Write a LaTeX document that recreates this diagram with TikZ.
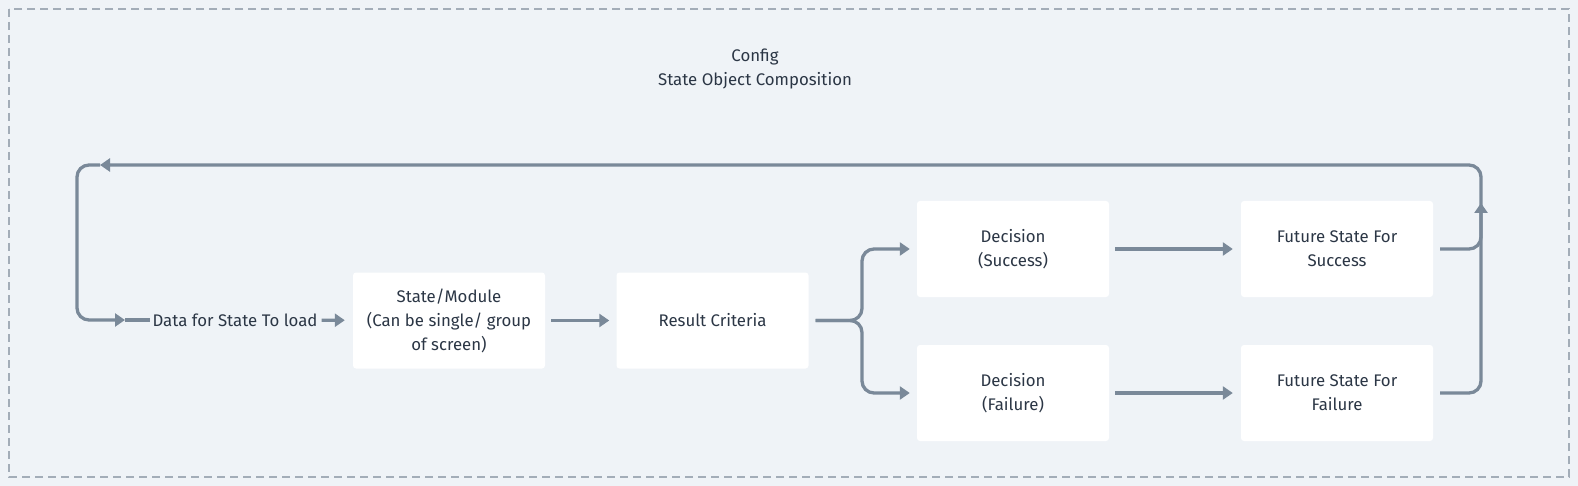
\documentclass[tikz,border=0pt]{standalone}
\usepackage{fontspec}
\setmainfont{Fira Sans}
\usetikzlibrary{arrows.meta}
\definecolor{bgc}{HTML}{EFF3F7}
\definecolor{edge}{HTML}{7A8999}
\definecolor{txt}{HTML}{2B3645}
\definecolor{frame}{HTML}{A3ADB8}

\begin{document}
\begin{tikzpicture}[x=1pt, y=-1pt, >={Triangle[length=10pt,width=13pt]},
    font=\fontsize{16.8}{24}\selectfont,
    card/.style={fill=white, rounded corners=3pt, minimum width=192pt, minimum height=96pt, align=center, text=txt},
    link/.style={draw=edge, line width=3.3pt, rounded corners=12pt}]
  \useasboundingbox (0,0) rectangle (1578,486);
  \fill[bgc] (0,0) rectangle (1578,486);
  \draw[frame, line width=1.3pt, dash pattern=on 8pt off 5pt] (9,9) rectangle (1569,477);
  \node[align=center, text=txt] (title) at (755,69) {Config\\State Object Composition};
  % main row
  \node[text=txt, inner sep=2pt] (data) at (235,320) {Data for State To load};
  \node[card] (state) at (449,320.5) {State/Module\\(Can be single/ group\\of screen)};
  \node[card] (result) at (712.5,320.5) {Result Criteria};
  \node[card] (decS) at (1013,249) {Decision\\(Success)};
  \node[card] (decF) at (1013,393) {Decision\\(Failure)};
  \node[card] (futS) at (1337,249) {Future State For\\Success};
  \node[card] (futF) at (1337,393) {Future State For\\Failure};
  \coordinate (fork) at (862,320.5);
  % loop back points
  \coordinate (up) at (1481,203);
  \coordinate (rt) at (1481,165);
  \coordinate (toparr) at (100,165);
  \coordinate (lt) at (77,165);
  \coordinate (lb) at (77,320);
  \coordinate (inarr) at (125,320);
  \draw[link, ->, shorten <=2pt, shorten >=8pt] (data) -- (state);
  \draw[link, ->, shorten <=6pt, shorten >=7pt] (state) -- (result);
  \draw[link, ->, shorten <=7pt, shorten >=7pt] (result.east) -- (fork) |- (decS.west);
  \draw[link, ->, shorten <=7pt, shorten >=7pt] (result.east) -- (fork) |- (decF.west);
  \draw[link, ->, shorten <=6pt, shorten >=8pt] (decS) -- (futS);
  \draw[link, ->, shorten <=6pt, shorten >=8pt] (decF) -- (futF);
  % feedback to the start
  \draw[link, ->, shorten <=7pt] (futS.east) -| (up);
  \draw[link, ->, shorten <=7pt] (futF.east) -| (rt) -- (toparr);
  \draw[link, ->] (toparr) -- (lt) -- (lb) -- (inarr);
  \draw[link] (inarr) -- (data.west);
\end{tikzpicture}
\end{document}
